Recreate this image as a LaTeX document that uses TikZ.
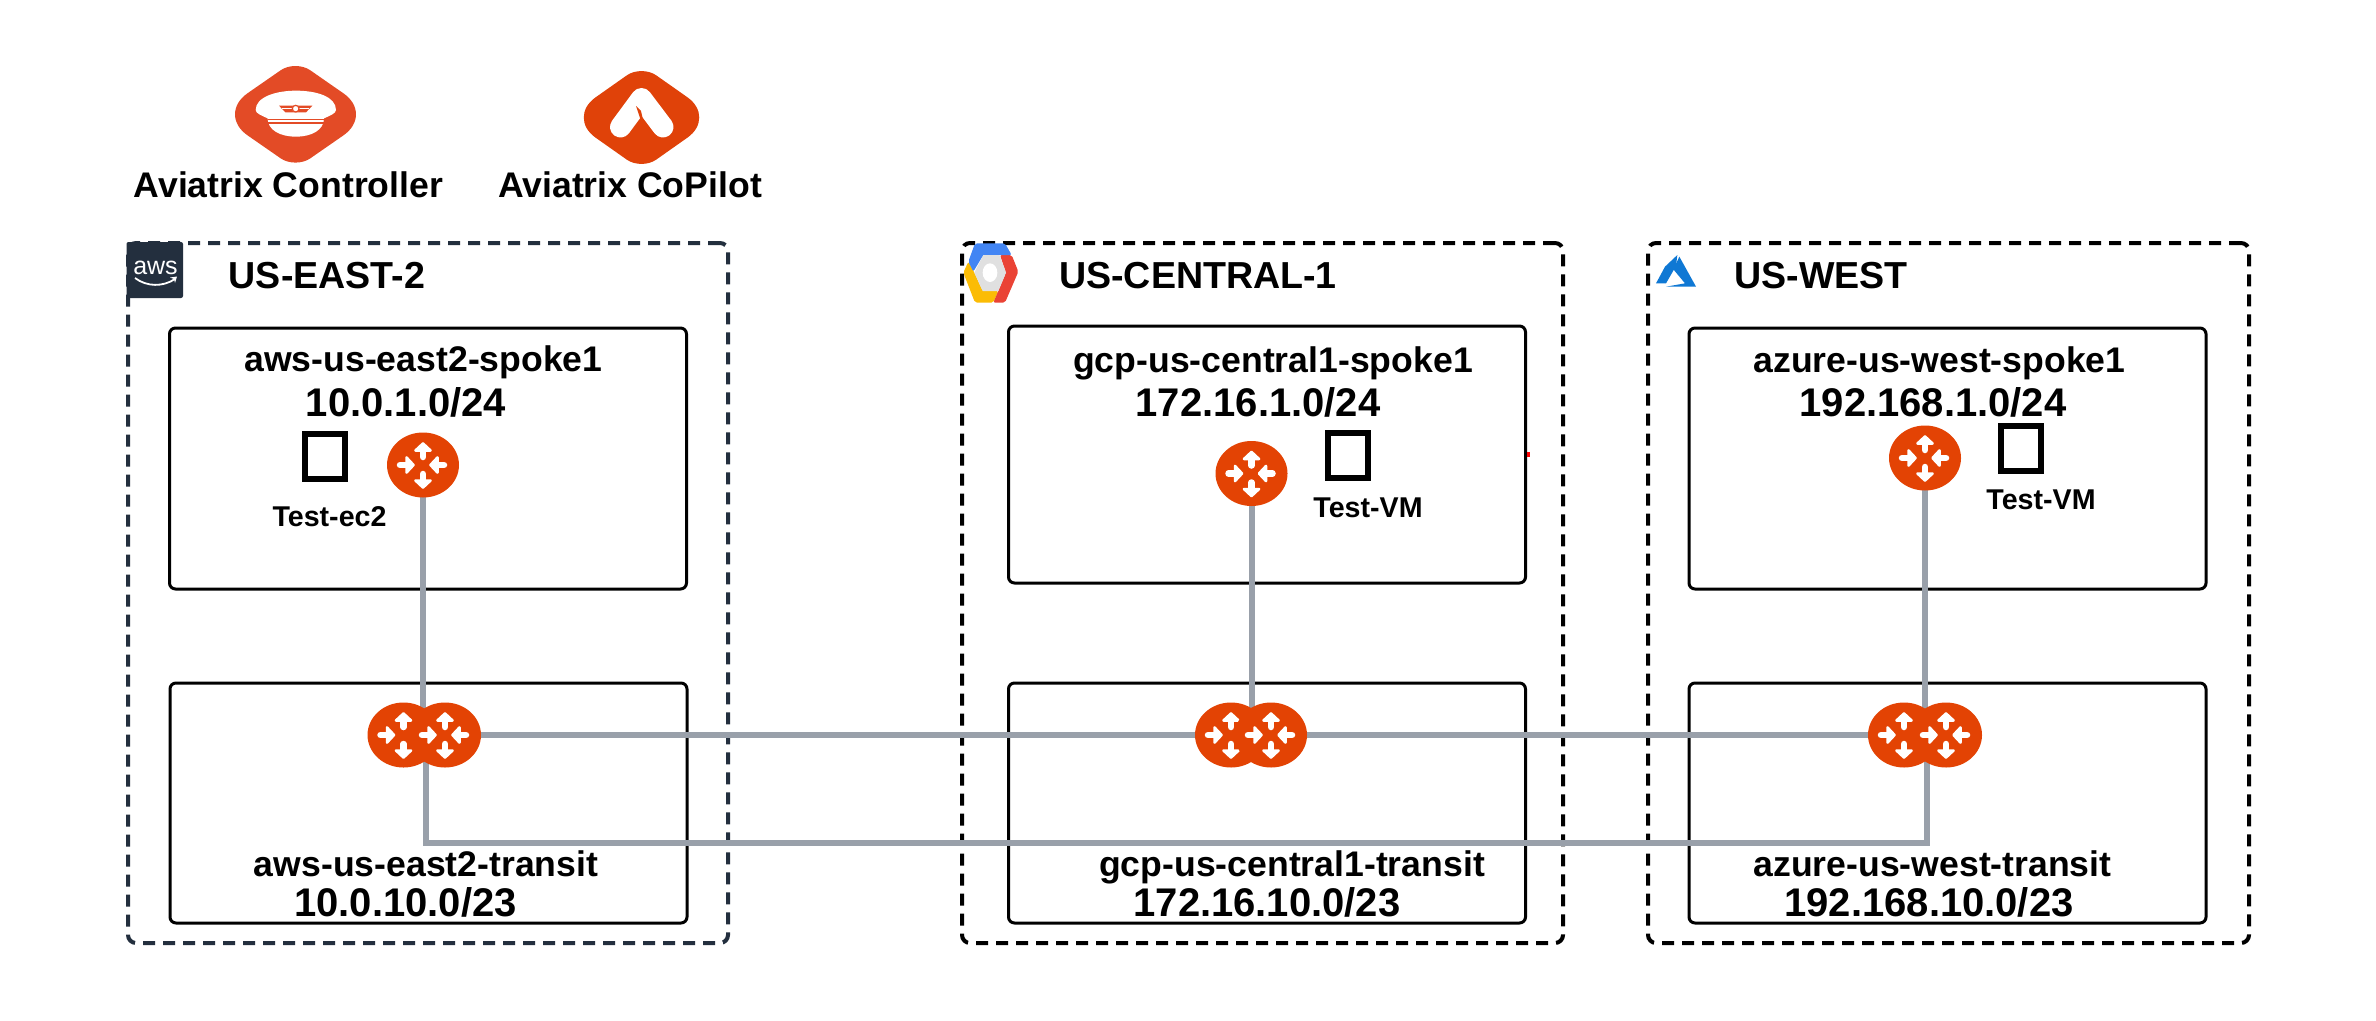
\documentclass[tikz,border=0pt]{standalone}
\usepackage{fontspec}
\setmainfont{Liberation Sans}
\usetikzlibrary{shapes.geometric}
\definecolor{rorange}{HTML}{E34304}
\definecolor{ctrlorange}{HTML}{E34B26}
\definecolor{copilotorange}{HTML}{E04209}
\definecolor{wiregrey}{HTML}{99A0AA}
\definecolor{awsnavy}{HTML}{232F3E}
\pgfdeclarelayer{boxes}
\pgfdeclarelayer{wires}
\pgfsetlayers{boxes,wires,main}
\tikzset{
  regionbox/.style={draw=black,line width=4pt,dash pattern=on 12pt off 8pt,rounded corners=8pt,
    minimum width=600pt,minimum height=700pt,inner sep=0pt,outer sep=0pt},
  vpcbox/.style={draw=black,line width=3pt,rounded corners=6pt,minimum width=517pt,inner sep=0pt,outer sep=0pt},
  router/.style={ellipse,fill=rorange,minimum width=72pt,minimum height=65pt,inner sep=0pt,outer sep=0pt},
  vmbox/.style={draw=black,line width=6pt,minimum width=40pt,minimum height=45pt,inner sep=0pt,outer sep=0pt},
  wire/.style={draw=wiregrey,line width=6pt},
  lab/.style={font=\bfseries\fontsize{35.6}{36}\selectfont,anchor=base,inner sep=0pt,text=black},
  region/.style={lab,font=\bfseries\fontsize{37.6}{38}\selectfont},
  cidr/.style={lab,font=\bfseries\fontsize{40}{40}\selectfont},
  vmlab/.style={lab,font=\bfseries\fontsize{28.6}{29}\selectfont},
  routerglyph/.pic={
    \foreach \r/\s in {90/5,-90/6,0/-26,180/-24}{
      \begin{scope}[rotate=\r,shift={(\s,0)}]
        \draw[white,fill=white,line width=2.5pt,line join=round] (9.5,-7.6)--(16.6,0)--(9.5,7.6)--cycle;
        \draw[white,line width=6.5pt,line cap=round] (3,0)--(10,0);
      \end{scope}
    }
  }
}
\begin{document}
\begin{tikzpicture}[x=1pt,y=-1pt]
\useasboundingbox (0,0) rectangle (2376,1020);

% routers
\node[router] (awsS) at (423,465) {}; \pic at (awsS) {routerglyph};
\node[router] (awsL) at (403.5,735) {}; \pic at (awsL) {routerglyph};
\node[router] (awsR) at (445,735) {}; \pic at (awsR) {routerglyph};
\node[router] (gcpS) at (1251.5,473.5) {}; \pic at (gcpS) {routerglyph};
\node[router] (gcpL) at (1231,735) {}; \pic at (gcpL) {routerglyph};
\node[router] (gcpR) at (1271,735) {}; \pic at (gcpR) {routerglyph};
\node[router] (azS) at (1925,458) {}; \pic at (azS) {routerglyph};
\node[router] (azL) at (1904,735) {}; \pic at (azL) {routerglyph};
\node[router] (azR) at (1946,735) {}; \pic at (azR) {routerglyph};

% region and VPC boxes
\begin{pgfonlayer}{boxes}
\fill[white] (0,0) rectangle (2376,1020);
\node[regionbox,draw=awsnavy] (awsRegion) at (428,593) {};
\node[regionbox,minimum width=601pt] (gcpRegion) at (1262.5,593) {};
\node[regionbox,minimum width=601pt] (azRegion) at (1948.5,593) {};
\node[vpcbox,minimum height=261pt] (awsSpokeBox) at (428,458.5) {};
\node[vpcbox,minimum height=240pt] (awsTransitBox) at (428.5,803) {};
\node[vpcbox,minimum height=257pt] (gcpSpokeBox) at (1267,454.5) {};
\node[vpcbox,minimum height=240pt] (gcpTransitBox) at (1267,803) {};
\node[vpcbox,minimum height=261pt] (azSpokeBox) at (1947.5,458.5) {};
\node[vpcbox,minimum height=240pt] (azTransitBox) at (1947.5,803) {};
\end{pgfonlayer}

% connectors
\coordinate (awsDrop) at (426,735);
\coordinate (azDrop) at (1927,735);
\coordinate (busY) at (0,843);
\begin{pgfonlayer}{wires}
\draw[wire] (awsS.center) -- (awsS.center |- awsL.center);
\draw[wire] (gcpS.center) -- (gcpS.center |- gcpL.center);
\draw[wire] (azS.center) -- (azS.center |- azL.center);
\draw[wire] (awsR.center) -- (gcpL.center);
\draw[wire] (gcpR.center) -- (azL.center);
\draw[wire,line join=miter] (awsDrop) -- (awsDrop |- busY) -- (azDrop |- busY) -- (azDrop);
\end{pgfonlayer}

% VM squares
\node[vmbox] (awsVM) at (325,456.5) {};
\node[vmbox] (gcpVM) at (1348,455.5) {};
\node[vmbox] (azVM) at (2021,448.5) {};

% labels
\node[lab] (tCtrl) at (288.5,197) {Aviatrix Controller};
\node[lab] (tCop) at (630,197) {Aviatrix CoPilot};
\node[region] (tR1) at (327,288) {US-EAST-2};
\node[region] (tR2) at (1198,288) {US-CENTRAL-1};
\node[region] (tR3) at (1821,288) {US-WEST};
\node[lab] (t1) at (423.5,371) {aws-us-east2-spoke1};
\node[cidr] (c1) at (406,416) {10.0.1.0/24};
\node[vmlab] (v1) at (329.5,526) {Test-ec2};
\node[lab] (t2) at (426,876) {aws-us-east2-transit};
\node[cidr] (c2) at (405.5,916) {10.0.10.0/23};
\node[lab] (t3) at (1273,372) {gcp-us-central1-spoke1};
\node[cidr] (c3) at (1258,416) {172.16.1.0/24};
\node[vmlab] (v2) at (1368,517) {Test-VM};
\node[lab] (t4) at (1292,876.5) {gcp-us-central1-transit};
\node[cidr] (c4) at (1267,916) {172.16.10.0/23};
\node[lab] (t5) at (1939.5,372) {azure-us-west-spoke1};
\node[cidr] (c5) at (1933,416) {192.168.1.0/24};
\node[vmlab] (v3) at (2041,509) {Test-VM};
\node[lab] (t6) at (1932.5,876.5) {azure-us-west-transit};
\node[cidr] (c6) at (1929,916) {192.168.10.0/23};

% red speck
\fill[red] (1526.5,452) rectangle (1530,456.5);

% Controller icon
\fill[ctrlorange] (334.6,87.2) [rounded corners=37pt] -- (373.8,114.3) [rounded corners=18pt] -- (295.5,168.6) [rounded corners=37pt] -- (217.2,114.3) [rounded corners=18pt] -- (295.5,60) [sharp corners] -- (334.6,87.2) -- cycle;
\begin{scope}[shift={(220,55)},x=.33333pt,y=-.33333pt]
  \fill[white] (107,165) .. controls (107,125) and (170,107) .. (228,107)
     .. controls (290,107) and (348,125) .. (348,165)
     .. controls (348,175) and (330,182) .. (312,190)
     .. controls (312,225) and (275,245) .. (228,245)
     .. controls (180,245) and (143,225) .. (143,190)
     .. controls (125,182) and (107,175) .. cycle;
  \draw[ctrlorange,line width=1.2pt] (143,193) -- (312,193);
  \draw[ctrlorange,line width=1.2pt] (143,204) -- (312,204);
  \fill[ctrlorange] (177,152) -- (277,152) -- (258,172) -- (196,172) -- cycle;
  \draw[white,line width=.8pt] (187,160) -- (267,160);
  \fill[white] (227,161) circle[radius=11];
  \draw[ctrlorange,line width=1.2pt] (227,161) circle[radius=10];
\end{scope}

% CoPilot icon
\fill[copilotorange] (678.8,91.2) [rounded corners=35pt] -- (716,117.5) [rounded corners=18pt] -- (641.5,170) [rounded corners=35pt] -- (567,117.5) [rounded corners=18pt] -- (641.5,65) [sharp corners] -- (678.8,91.2) -- cycle;
\draw[white,line width=21pt,line cap=round,line join=round] (620.5,127) -- (641.5,98.5) -- (663,127);
\fill[copilotorange] (636,106) -- (641,111) -- (643.5,122) -- (640,118) -- cycle;

% AWS logo
\fill[awsnavy,rounded corners=2pt] (126.5,242) rectangle (183,298);
\node[font=\fontsize{25}{25}\selectfont,text=white,anchor=base,inner sep=0pt] (awsWord) at (155.5,274) {aws};
\draw[white,line width=1.8pt] (135,278) .. controls (147,287) and (163,287) .. (175,279);
\fill[white] (170,277.5) -- (177,276.5) -- (175,283) -- (174,279) -- cycle;

% GCP logo
\begin{scope}[shift={(950,230)},x=.33333pt,y=-.33333pt]
  \fill[rounded corners=2pt,color={rgb,255:red,251;green,188;blue,5}] (55,95) -- (40,128) -- (75,218) -- (130,218) -- (145,183) -- (98,183) -- (73,128) -- cycle;
  \fill[rounded corners=2pt,color={rgb,255:red,234;green,67;blue,53}] (150,75) -- (185,75) -- (205,125) -- (165,218) -- (130,218) -- (168,128) -- cycle;
  \fill[rounded corners=2pt,color={rgb,255:red,66;green,133;blue,244}] (75,40) -- (165,40) -- (185,75) -- (100,75) -- (70,125) -- (55,95) -- cycle;
  \fill[color={rgb,255:red,224;green,224;blue,224}] (100,75) -- (148,75) -- (168,128) -- (145,183) -- (98,183) -- (73,128) -- cycle;
  \fill[white] (120,128) ellipse[x radius=22,y radius=28];
\end{scope}

% Azure logo
\begin{scope}[shift={(1640,240)},x=.33333pt,y=-.33333pt]
  \fill[color={rgb,255:red,15;green,120;blue,212}] (112,45) -- (75,80) -- (48,130) -- (78,130) -- (108,78) -- cycle;
  \fill[color={rgb,255:red,15;green,120;blue,212}] (118,50) -- (168,140) -- (78,140) -- (135,130) -- (100,88) -- cycle;
\end{scope}
\end{tikzpicture}
\end{document}
